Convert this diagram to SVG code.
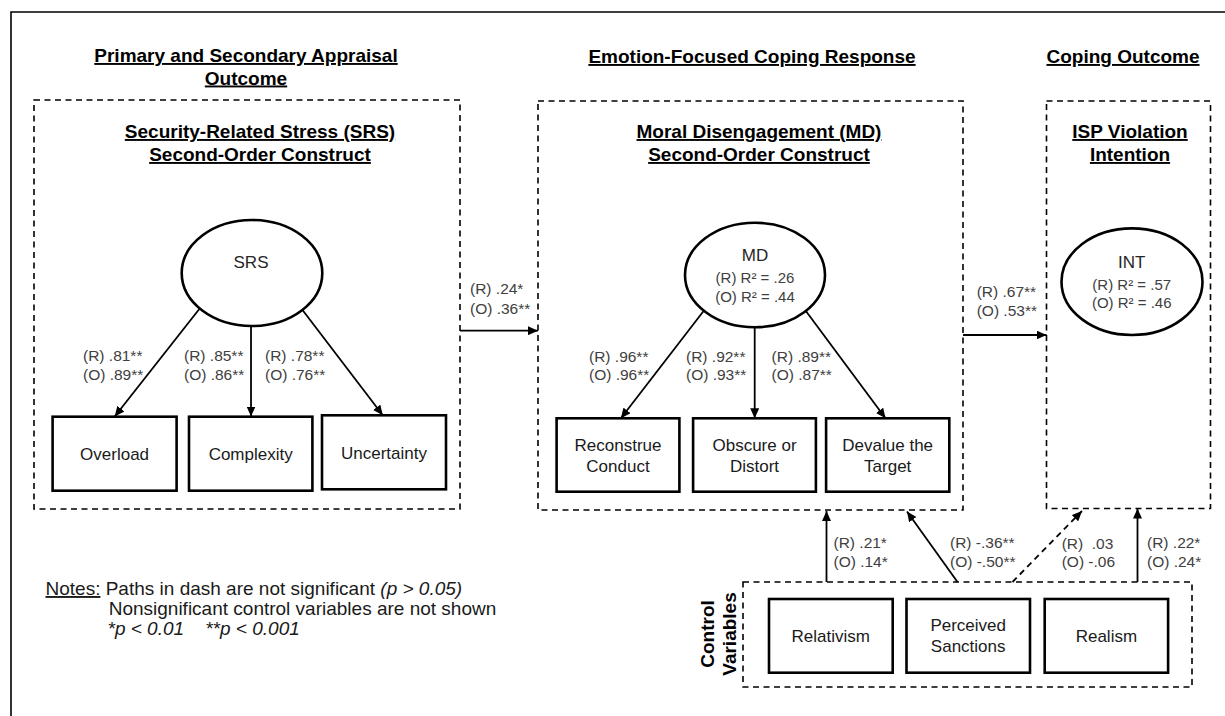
<svg xmlns="http://www.w3.org/2000/svg" width="1225" height="716" viewBox="0 0 1225 716">
<defs>
<marker id="ah" markerWidth="10" markerHeight="9" refX="10" refY="4.5" orient="auto" markerUnits="userSpaceOnUse">
<path d="M0,0 L10,4.5 L0,9 z" fill="#000"/>
</marker>
<style>
text{font-family:"Liberation Sans",Arial,sans-serif;}
.ttl{font-size:19px;font-weight:bold;text-anchor:middle;text-decoration:underline;fill:#000;}
.ctl{font-size:19px;font-weight:bold;text-anchor:middle;fill:#000;}
.dash{fill:none;stroke:#000;stroke-width:1.6;stroke-dasharray:6 4.5;}
.box{fill:#fff;stroke:#000;stroke-width:2.6;}
.ell{fill:#fff;stroke:#000;stroke-width:2.6;}
.bt{font-size:17px;text-anchor:middle;fill:#1a1a1a;}
.nm{font-size:17px;text-anchor:middle;fill:#262626;}
.r2{font-size:15px;text-anchor:middle;fill:#404040;}
.lbl{font-size:15.5px;fill:#404040;white-space:pre;}
.edge{fill:none;stroke:#000;stroke-width:1.8;marker-end:url(#ah);}
.ndash{stroke-dasharray:6 4.5;}
.note{font-size:19px;fill:#1a1a1a;white-space:pre;}
</style>
</defs>
<rect width="1225" height="716" fill="#fff"/>
<g id="frame">
<polyline points="11,716 11,12 1225,12" fill="none" stroke="#000" stroke-width="1.6"/>
</g>
<g id="column-titles">
<text class="ttl" x="246" y="62">Primary and Secondary Appraisal</text>
<text class="ttl" x="246" y="84.5">Outcome</text>
<text class="ttl" x="752" y="63">Emotion-Focused Coping Response</text>
<text class="ttl" x="1123" y="63">Coping Outcome</text>
</g>
<g id="srs-group">
<rect class="dash" x="34" y="100" width="426" height="409"/>
<text class="ttl" x="260" y="138">Security-Related Stress (SRS)</text>
<text class="ttl" x="260" y="161">Second-Order Construct</text>
</g>
<g id="md-group">
<rect class="dash" x="538" y="101" width="425" height="409"/>
<text class="ttl" x="759" y="138">Moral Disengagement (MD)</text>
<text class="ttl" x="759" y="161">Second-Order Construct</text>
</g>
<g id="isp-group">
<rect class="dash" x="1046.5" y="101" width="164" height="407.5"/>
<text class="ttl" x="1130" y="138">ISP Violation</text>
<text class="ttl" x="1130" y="161">Intention</text>
</g>
<g id="control-group">
<rect class="dash" x="743" y="582" width="449" height="105"/>
<text class="ctl" transform="translate(714,634) rotate(-90)">Control</text>
<text class="ctl" transform="translate(736,634) rotate(-90)">Variables</text>
</g>
<g id="connectors">
<path class="edge" d="M199.7,308.5 L114.7,416.5"/>
<path class="edge" d="M251,326 L251,416.5"/>
<path class="edge" d="M302.5,310 L382.8,415.3"/>
<path class="edge" d="M703.8,310.7 L620.9,418.3"/>
<path class="edge" d="M754.7,327.3 L754.7,418.3"/>
<path class="edge" d="M805.7,310.7 L885.5,418.3"/>
<path class="edge" d="M460,330.7 L538,330.7"/>
<path class="edge" d="M963,335 L1046.5,335"/>
<path class="edge" d="M826.5,582 L826.5,511"/>
<path class="edge" d="M957.5,582 L907,511.5"/>
<path class="edge ndash" d="M1012.5,582 L1082,511"/>
<path class="edge" d="M1137.5,582 L1137.5,508.5"/>
<g id="edge-labels">
<text class="lbl" x="83" y="361">(R) .81**</text>
<text class="lbl" x="83" y="380">(O) .89**</text>
<text class="lbl" x="184" y="361">(R) .85**</text>
<text class="lbl" x="184" y="380">(O) .86**</text>
<text class="lbl" x="265" y="361">(R) .78**</text>
<text class="lbl" x="265" y="380">(O) .76**</text>
<text class="lbl" x="589" y="362">(R) .96**</text>
<text class="lbl" x="589" y="380">(O) .96**</text>
<text class="lbl" x="686" y="362">(R) .92**</text>
<text class="lbl" x="686" y="380">(O) .93**</text>
<text class="lbl" x="771.6" y="362">(R) .89**</text>
<text class="lbl" x="771.6" y="380">(O) .87**</text>
<text class="lbl" x="470" y="293.5">(R) .24*</text>
<text class="lbl" x="470" y="313.5">(O) .36**</text>
<text class="lbl" x="976.7" y="297">(R) .67**</text>
<text class="lbl" x="976.7" y="315.5">(O) .53**</text>
<text class="lbl" x="833.5" y="548">(R) .21*</text>
<text class="lbl" x="833.5" y="566.5">(O) .14*</text>
<text class="lbl" x="950" y="548">(R) -.36**</text>
<text class="lbl" x="950" y="566.5">(O) -.50**</text>
<text class="lbl" x="1061.7" y="548.5">(R)  .03</text>
<text class="lbl" x="1061.7" y="567">(O) -.06</text>
<text class="lbl" x="1147" y="548">(R) .22*</text>
<text class="lbl" x="1147" y="566.5">(O) .24*</text>
</g>
</g>
<g id="node-srs">
<ellipse class="ell" cx="252" cy="273" rx="70.3" ry="53"/>
<text class="nm" x="251" y="267.5">SRS</text>
</g>
<g id="node-overload">
<rect class="box" x="52.6" y="416.7" width="124" height="74"/>
<text class="bt" x="114.6" y="459.5">Overload</text>
</g>
<g id="node-complexity">
<rect class="box" x="189" y="416.7" width="123.4" height="74"/>
<text class="bt" x="250.7" y="459.5">Complexity</text>
</g>
<g id="node-uncertainty">
<rect class="box" x="322" y="415.3" width="124" height="74"/>
<text class="bt" x="384" y="458.5">Uncertainty</text>
</g>
<g id="node-md">
<ellipse class="ell" cx="755" cy="275" rx="70" ry="52.3"/>
<text class="nm" x="755" y="261">MD</text>
<text class="r2" x="755" y="283">(R) R² = .26</text>
<text class="r2" x="755" y="301.5">(O) R² = .44</text>
</g>
<g id="node-reconstrue">
<rect class="box" x="556.6" y="418.3" width="122.8" height="73.4"/>
<text class="bt" x="618" y="451">Reconstrue</text>
<text class="bt" x="618" y="472">Conduct</text>
</g>
<g id="node-obscure">
<rect class="box" x="693.1" y="418.3" width="122.8" height="73.4"/>
<text class="bt" x="754.5" y="451">Obscure or</text>
<text class="bt" x="754.5" y="472">Distort</text>
</g>
<g id="node-devalue">
<rect class="box" x="826.1" y="418.3" width="123.2" height="73.4"/>
<text class="bt" x="887.7" y="451">Devalue the</text>
<text class="bt" x="887.7" y="472">Target</text>
</g>
<g id="node-int">
<ellipse class="ell" cx="1132" cy="281.7" rx="70.5" ry="53.3"/>
<text class="nm" x="1131.7" y="267.7">INT</text>
<text class="r2" x="1131.7" y="289.6">(R) R² = .57</text>
<text class="r2" x="1131.7" y="308">(O) R² = .46</text>
</g>
<g id="node-relativism">
<rect class="box" x="769" y="599" width="123.7" height="73.7"/>
<text class="bt" x="830.8" y="642">Relativism</text>
</g>
<g id="node-sanctions">
<rect class="box" x="906.5" y="599" width="123.5" height="73.7"/>
<text class="bt" x="968.2" y="631">Perceived</text>
<text class="bt" x="968.2" y="652">Sanctions</text>
</g>
<g id="node-realism">
<rect class="box" x="1044.7" y="599" width="123.4" height="73.7"/>
<text class="bt" x="1106.4" y="642">Realism</text>
</g>
<g id="notes">
<text class="note" x="45.5" y="595"><tspan text-decoration="underline">Notes:</tspan> Paths in dash are not significant <tspan font-style="italic">(p &gt; 0.05)</tspan></text>
<text class="note" x="108.7" y="615">Nonsignificant control variables are not shown</text>
<text class="note" x="107.5" y="635" font-style="italic">*p &lt; 0.01    **p &lt; 0.001</text>
</g>
</svg>
